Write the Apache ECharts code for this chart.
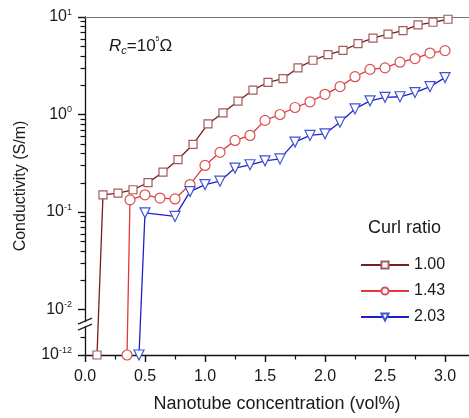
<!DOCTYPE html>
<html><head><meta charset="utf-8">
<script src="https://cdn.jsdelivr.net/npm/echarts@6/dist/echarts.min.js"></script>
<style>html,body{margin:0;padding:0;background:#fff}#c{width:469px;height:418px}</style>
</head><body><div id="c"></div>
<script>
// ---- data ----
const seriesNames = ['1.00', '1.43', '2.03'];
const x100 = [0.10, 0.15, 0.275, 0.40, 0.525, 0.65, 0.775, 0.90, 1.025, 1.15, 1.275, 1.40, 1.525, 1.65, 1.775, 1.90, 2.025, 2.15, 2.275, 2.40, 2.525, 2.65, 2.775, 2.90, 3.025];
const y100 = [1e-12, 0.150, 0.156, 0.169, 0.200, 0.256, 0.345, 0.493, 0.80, 1.04, 1.37, 1.78, 2.14, 2.33, 3.01, 3.60, 4.11, 4.55, 5.32, 6.08, 6.67, 7.26, 8.30, 8.83, 9.48];
const x143 = [0.35, 0.375, 0.5, 0.625, 0.75, 0.875, 1.0, 1.125, 1.25, 1.375, 1.5, 1.625, 1.75, 1.875, 2.0, 2.125, 2.25, 2.375, 2.5, 2.625, 2.75, 2.875, 3.0];
const y143 = [1e-12, 0.133, 0.150, 0.139, 0.136, 0.191, 0.300, 0.409, 0.542, 0.610, 0.87, 1.00, 1.18, 1.35, 1.61, 1.93, 2.44, 2.90, 3.01, 3.44, 3.75, 4.27, 4.52];
const x203 = [0.45, 0.5, 0.75, 0.875, 1.0, 1.125, 1.25, 1.375, 1.5, 1.625, 1.75, 1.875, 2.0, 2.125, 2.25, 2.375, 2.5, 2.625, 2.75, 2.875, 3.0];
const y203 = [1e-12, 0.098, 0.090, 0.162, 0.191, 0.207, 0.282, 0.305, 0.335, 0.350, 0.521, 0.610, 0.634, 0.834, 1.14, 1.38, 1.50, 1.52, 1.68, 1.93, 2.39];
const xTickValues = [0, 0.5, 1.0, 1.5, 2.0, 2.5, 3.0];
const xMinorTickValues = [0.25, 0.75, 1.25, 1.75, 2.25, 2.75];
const yTickExponents = [-12, -2, -1, 0, 1];
const yMinorTickValues = [1e-8, 0.02, 0.03, 0.04, 0.05, 0.06, 0.07, 0.08, 0.09, 0.2, 0.3, 0.4, 0.5, 0.6, 0.7, 0.8, 0.9, 2, 3, 4, 5, 6, 7, 8, 9];

// ---- broken log scale: log10 above 1e-2, compressed between 1e-12 and 1e-2 ----
const BREAK_LOW = -12, BREAK_HIGH = -2, BREAK_SPAN = 0.467;
function ty(v) {
  const l = Math.log10(v);
  return l >= BREAK_HIGH ? l : BREAK_HIGH - (BREAK_HIGH - l) / (BREAK_HIGH - BREAK_LOW) * BREAK_SPAN;
}
const X_MIN = 0, X_MAX = 3.2;
const yMin = ty(1e-12), yMax = ty(10);
const yMajorT = yTickExponents.map(e => ty(Math.pow(10, e)));
const yMinorT = yMinorTickValues.map(ty);

const FONT = '"Liberation Sans", Arial, Helvetica, sans-serif';
const TXT = '#1a1a1a';

const chart = echarts.init(document.getElementById('c'), null, {renderer: 'canvas'});

function mk(name, xs, ys, symbol, size, lineColor, borderColor, rotate) {
  return {
    type: 'line', name: name,
    data: xs.map((x, i) => [x, ty(ys[i])]),
    symbol: symbol, symbolSize: size, symbolRotate: rotate || 0,
    showAllSymbol: true,
    lineStyle: {color: lineColor, width: 1.3},
    itemStyle: {color: '#fff', borderColor: borderColor, borderWidth: 1.2},
    emphasis: {disabled: true},
    xAxisIndex: 0, yAxisIndex: 0
  };
}

const baseGraphics = [
  {
    id: 'legendTitle', type: 'text', left: 368, top: 219,
    style: {text: 'Curl ratio', fontSize: 18, fontWeight: 'normal', fill: TXT, fontFamily: FONT}
  },
  {
    id: 'rc', type: 'text', left: 109, top: 36,
    style: {
      text: '{r|R}{c|c}{n|=10}{p|5}{n|Ω}',
      fontWeight: 'normal',
      rich: {
        r: {fontSize: 17, fontStyle: 'italic', fontWeight: 'normal', fill: TXT, fontFamily: FONT, lineHeight: 20},
        c: {fontSize: 11, fontStyle: 'italic', fontWeight: 'normal', fill: TXT, fontFamily: FONT, verticalAlign: 'bottom', lineHeight: 10},
        n: {fontSize: 17, fontWeight: 'normal', fill: TXT, fontFamily: FONT, lineHeight: 20},
        p: {fontSize: 7, fontWeight: 'normal', fill: TXT, fontFamily: FONT, verticalAlign: 'top', lineHeight: 8}
      }
    }
  }
];

const option = {
  animation: false,
  backgroundColor: '#fff',
  textStyle: {fontFamily: FONT},
  grid: {left: 85, top: 17, width: 384, height: 341, containLabel: false},
  xAxis: [
    {
      type: 'value', min: X_MIN, max: X_MAX, position: 'bottom',
      axisLine: {show: true, onZero: false, lineStyle: {color: '#111', width: 1.3}},
      axisTick: {show: true, inside: false, length: 7, customValues: xTickValues, lineStyle: {color: '#111', width: 1.4}},
      axisLabel: {show: true, customValues: xTickValues, formatter: v => v.toFixed(1), fontSize: 16, color: TXT, margin: 14, fontFamily: FONT},
      splitLine: {show: false},
      name: 'Nanotube concentration (vol%)', nameLocation: 'middle', nameGap: 40,
      nameTextStyle: {fontSize: 18, color: TXT, fontFamily: FONT}
    },
    {
      type: 'value', min: X_MIN, max: X_MAX, position: 'top', gridIndex: 0,
      axisLine: {show: true, onZero: false, lineStyle: {color: '#777', width: 1.2}},
      axisTick: {show: false}, axisLabel: {show: false}, splitLine: {show: false}
    }
  ],
  yAxis: [
    {
      type: 'value', min: yMin, max: yMax, position: 'left',
      axisLine: {show: true, onZero: false, lineStyle: {color: '#111', width: 1.3}},
      axisTick: {show: true, inside: false, length: 7, customValues: yMajorT, lineStyle: {color: '#111', width: 1.4}},
      axisLabel: {
        show: true, customValues: yMajorT, margin: 13, fontFamily: FONT,
        formatter: function (v) {
          let best = 0;
          yMajorT.forEach((t, i) => { if (Math.abs(t - v) < Math.abs(yMajorT[best] - v)) best = i; });
          return '{b|10}{s|' + yTickExponents[best] + '}';
        },
        rich: {
          b: {fontSize: 16, color: TXT, fontFamily: FONT, lineHeight: 18},
          s: {fontSize: 9, color: TXT, fontFamily: FONT, verticalAlign: 'top', lineHeight: 10}
        }
      },
      splitLine: {show: false},
      name: 'Conductivity (S/m)', nameLocation: 'middle', nameGap: 56, nameRotate: 90,
      nameTextStyle: {fontSize: 16, color: TXT, fontFamily: FONT}
    }
  ],
  legend: {
    orient: 'vertical', left: 360, top: 257, padding: 0,
    itemWidth: 48, itemHeight: 9, itemGap: 10,
    textStyle: {fontSize: 16, color: TXT, fontFamily: FONT},
    data: seriesNames
  },
  graphic: baseGraphics,
  series: [
    mk(seriesNames[0], x100, y100, 'rect', 8, '#7a1c1c', '#a35c5c'),
    mk(seriesNames[1], x143, y143, 'circle', 10, '#e0383d', '#d9504f'),
    mk(seriesNames[2], x203, y203, 'triangle', 10, '#1f1fc8', '#3d55d6', 180)
  ]
};
chart.setOption(option);

// minor ticks and axis-break marks, positioned through the axis scales
const ax = chart.convertToPixel({xAxisIndex: 0}, X_MIN);
const ay = chart.convertToPixel({yAxisIndex: 0}, yMin);
const tickGraphics = [];
yMinorT.forEach((t, i) => {
  const py = Math.round(chart.convertToPixel({yAxisIndex: 0}, t)) + 0.5;
  tickGraphics.push({id: 'ymt' + i, type: 'line', z: 50, silent: true,
    shape: {x1: ax - 4.5, y1: py, x2: ax, y2: py}, style: {stroke: '#111', lineWidth: 1.2}});
});
xMinorTickValues.forEach((x, i) => {
  const px = Math.round(chart.convertToPixel({xAxisIndex: 0}, x)) + 0.5;
  tickGraphics.push({id: 'xmt' + i, type: 'line', z: 50, silent: true,
    shape: {x1: px, y1: ay, x2: px, y2: ay + 4.5}, style: {stroke: '#111', lineWidth: 1.2}});
});
const BREAK_MARK_T = -2.15;
const by = chart.convertToPixel({yAxisIndex: 0}, BREAK_MARK_T);
chart.setOption({
  graphic: baseGraphics.concat(tickGraphics, [
    {id: 'brkGap', type: 'rect', shape: {x: ax - 2, y: by - 2, width: 4, height: 4}, style: {fill: '#fff'}, z: 100},
    {id: 'brk1', type: 'line', shape: {x1: ax - 7, y1: by + 0, x2: ax + 7, y2: by - 6}, style: {stroke: '#222', lineWidth: 1.4}, z: 101},
    {id: 'brk2', type: 'line', shape: {x1: ax - 7, y1: by + 6, x2: ax + 7, y2: by + 0}, style: {stroke: '#222', lineWidth: 1.4}, z: 101}
  ])
});
</script>
</body></html>
